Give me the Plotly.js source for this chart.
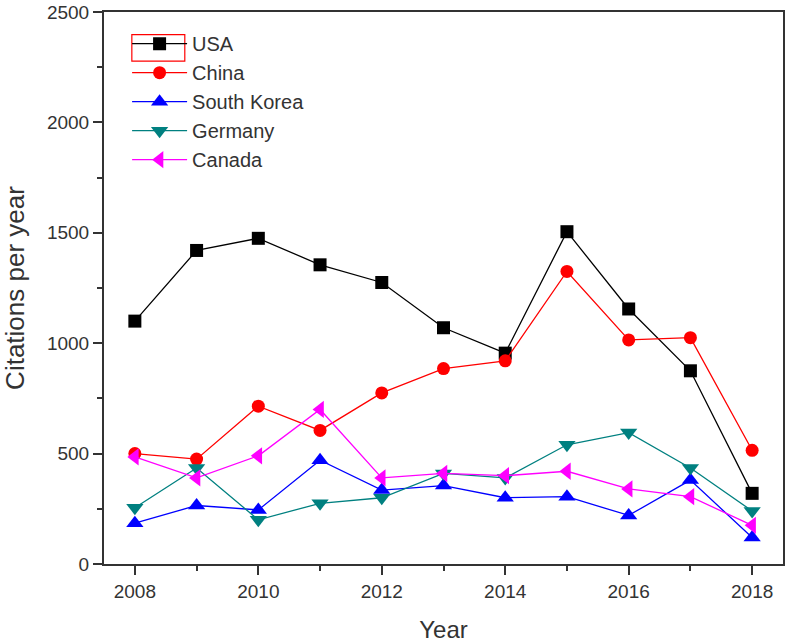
<!DOCTYPE html>
<html>
<head>
<meta charset="utf-8">
<script src="https://cdn.plot.ly/plotly-3.0.1.min.js"></script>
<style>
	body { margin: 0; background: #fff; }
	#plot { width: 787px; height: 643px; }
</style>
</head>
<body>
<div id="plot"></div>
<script>
var years = [2008, 2009, 2010, 2011, 2012, 2013, 2014, 2015, 2016, 2017, 2018];

var usa = [1100, 1420, 1475, 1355, 1275, 1070, 955, 1505, 1155, 875, 320];
var china = [500, 475, 715, 605, 775, 885, 920, 1325, 1015, 1025, 515];
var south_korea = [185, 265, 245, 470, 335, 355, 300, 305, 220, 380, 120];
var germany = [255, 435, 200, 275, 300, 410, 390, 540, 595, 435, 240];
var canada = [485, 390, 490, 700, 390, 410, 400, 420, 340, 305, 175];

var names = ["USA", "China", "South Korea", "Germany", "Canada"];
var x_ticks = [2008, 2010, 2012, 2014, 2016, 2018];
var y_ticks = [0, 500, 1000, 1500, 2000, 2500];

function make_trace(name, values, color, symbol, size)
{
	return {
		type: "scatter",
		mode: "lines+markers",
		name: name,
		x: years,
		y: values,
		line: {color: color, width: 1.3},
		marker: {color: color, symbol: symbol, size: size}
	};
}

var data = [
	make_trace(names[0], usa, "#000000", "square", 13),
	make_trace(names[1], china, "#ff0000", "circle", 13),
	make_trace(names[2], south_korea, "#0000ff", "triangle-up", 15),
	make_trace(names[3], germany, "#008080", "triangle-down", 15),
	make_trace(names[4], canada, "#ff00ff", "triangle-left", 15)
];

var layout =
{
	width: 787,
	height: 643,
	margin: {l: 104, r: 4, t: 12, b: 79},
	paper_bgcolor: "#ffffff",
	plot_bgcolor: "#ffffff",
	font: {family: "Liberation Sans, Arial, sans-serif", color: "#333333", size: 19},
	showlegend: true,
	legend: {
		x: 0.034,
		y: 0.978,
		xanchor: "left",
		yanchor: "top",
		bgcolor: "rgba(0,0,0,0)",
		font: {size: 20, color: "#333333"},
		itemwidth: 55,
		tracegroupgap: 0
	},
	xaxis: {
		range: [2007.5, 2018.5],
		tickvals: x_ticks,
		ticktext: x_ticks.map(String),
		ticks: "outside",
		ticklen: 9,
		tickwidth: 2,
		tickcolor: "#333333",
		minor: {dtick: 1, ticks: "outside", ticklen: 5, tickwidth: 2, tickcolor: "#333333"},
		showgrid: false,
		zeroline: false,
		showline: true,
		linecolor: "#333333",
		linewidth: 2,
		mirror: true,
		title: {text: "Year", font: {size: 24, color: "#333333"}, standoff: 20}
	},
	yaxis: {
		range: [0, 2500],
		tickvals: y_ticks,
		ticks: "outside",
		ticklen: 9,
		tickwidth: 2,
		tickcolor: "#333333",
		minor: {dtick: 250, ticks: "outside", ticklen: 5, tickwidth: 2, tickcolor: "#333333"},
		showgrid: false,
		zeroline: false,
		showline: true,
		linecolor: "#333333",
		linewidth: 2,
		mirror: true,
		title: {text: "Citations per year", font: {size: 26, color: "#333333"}, standoff: 16}
	},
	shapes: [{
		type: "rect",
		xref: "paper",
		yref: "paper",
		x0: 0.041,
		x1: 0.119,
		y0: 0.911,
		y1: 0.959,
		line: {color: "#ff0000", width: 1.2}
	}]
};

Plotly.newPlot("plot", data, layout, {displayModeBar: false});
</script>
</body>
</html>
